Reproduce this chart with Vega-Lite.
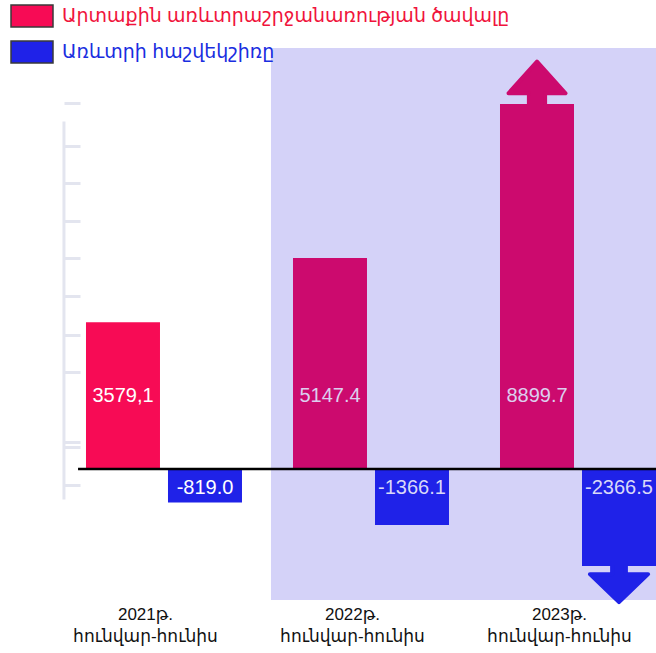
{
  "$schema": "https://vega.github.io/schema/vega-lite/v6.json",
  "width": 656,
  "height": 552,
  "autosize": {"type": "none"},
  "padding": {"left": 0, "top": 48, "right": 0, "bottom": 53},
  "background": "white",
  "config": {"view": {"stroke": null}, "font": "Liberation Sans, DejaVu Sans, sans-serif"},
  "data": {"values": [
    {"year": "2021", "series": "Արտաքին առևտրաշրջանառության ծավալը", "value": 3579.1, "label": "3579,1"},
    {"year": "2021", "series": "Առևտրի հաշվեկշիռը", "value": -819.0, "label": "-819.0"},
    {"year": "2022", "series": "Արտաքին առևտրաշրջանառության ծավալը", "value": 5147.4, "label": "5147.4"},
    {"year": "2022", "series": "Առևտրի հաշվեկշիռը", "value": -1366.1, "label": "-1366.1"},
    {"year": "2023", "series": "Արտաքին առևտրաշրջանառության ծավալը", "value": 8899.7, "label": "8899.7"},
    {"year": "2023", "series": "Առևտրի հաշվեկշիռը", "value": -2366.5, "label": "-2366.5"}
  ]},
  "layer": [
    {
      "mark": {"type": "bar", "opacity": 0},
      "encoding": {
        "x": {
          "field": "year", "type": "nominal", "title": null,
          "scale": {"type": "band", "domain": ["2021", "2022", "2023"], "paddingInner": 0, "paddingOuter": 0.0845, "align": 1},
          "axis": {
            "title": null, "domain": false, "ticks": false, "labelAngle": 0,
            "labelExpr": "[datum.value + 'թ.', 'հունվար-հունիս']",
            "labelFontSize": 17, "labelColor": "#111111", "labelLineHeight": 22,
            "labelPadding": 6, "labelOffset": 7, "labelFont": "Liberation Sans, DejaVu Sans, sans-serif"
          }
        },
        "y": {
          "field": "value", "type": "quantitative", "stack": null, "title": null,
          "scale": {"domain": [-3195, 10268], "nice": false, "zero": false},
          "axis": {
            "orient": "left", "offset": -64, "title": null, "domain": false, "labels": false, "grid": false,
            "ticks": true, "tickSize": -16, "tickColor": "#e3e5ef", "tickWidth": 3,
            "values": [-400, 530, 650, 2360, 3280, 4210, 5140, 6040, 6970, 7890, 8930]
          }
        }
      }
    },
    {
      "data": {"values": [{}]},
      "mark": {"type": "rect", "color": "#d4d2f8"},
      "encoding": {
        "x": {"datum": "2022", "type": "nominal", "bandPosition": 0.14, "title": null},
        "x2": {"datum": "2023", "bandPosition": 1},
        "y": {"value": 0},
        "y2": {"value": "height"}
      }
    },
    {
      "data": {"values": [{}]},
      "mark": {"type": "rule", "color": "#e3e5ef", "strokeWidth": 3},
      "encoding": {
        "x": {"datum": "2021", "type": "nominal", "bandPosition": 0.14, "title": null},
        "y": {"datum": 8478, "type": "quantitative", "title": null},
        "y2": {"datum": -741}
      }
    },
    {
      "mark": {"type": "bar"},
      "encoding": {
        "x": {"field": "year", "type": "nominal", "title": null},
        "xOffset": {
          "field": "series", "type": "nominal",
          "scale": {"domain": ["Արտաքին առևտրաշրջանառության ծավալը", "Առևտրի հաշվեկշիռը"], "paddingInner": 0.0976, "paddingOuter": 0.311, "align": 1}
        },
        "y": {"field": "value", "type": "quantitative", "stack": null, "title": null},
        "color": {
          "condition": {"test": "datum.year !== '2021' && datum.value > 0", "value": "#cc0a6e"},
          "field": "series", "type": "nominal",
          "scale": {"domain": ["Արտաքին առևտրաշրջանառության ծավալը", "Առևտրի հաշվեկշիռը"], "range": ["#f70b55", "#1f22e8"]},
          "legend": {
            "title": null, "orient": "none", "legendX": 10, "legendY": -54, "padding": 0, "offset": 0,
            "symbolType": "M-1,-0.52L1,-0.52L1,0.52L-1,0.52Z", "symbolSize": 1764,
            "symbolStrokeColor": "#3a3a3a", "symbolStrokeWidth": 1.5, "symbolOpacity": 1,
            "labelFontSize": 19, "labelOffset": 8, "labelLimit": 0, "rowPadding": -7,
            "labelFont": "Liberation Sans, DejaVu Sans, sans-serif",
            "encode": {"labels": {"update": {"fill": {"signal": "datum.index === 0 ? '#f0143c' : '#1a2ee0'"}}}}
          }
        }
      }
    },
    {
      "transform": [{"filter": "datum.year === '2023' && datum.value > 0"}],
      "mark": {"type": "point", "filled": true, "opacity": 1, "size": 3600, "strokeWidth": 4, "strokeJoin": "round",
               "color": "#cc0a6e", "stroke": "#cc0a6e",
               "shape": "M-0.27,0.1L-0.27,-0.36L-0.95,-0.36L0,-1.42L0.95,-0.36L0.27,-0.36L0.27,0.1Z"},
      "encoding": {
        "x": {"field": "year", "type": "nominal", "title": null},
        "xOffset": {"field": "series", "type": "nominal"},
        "y": {"field": "value", "type": "quantitative", "stack": null, "title": null}
      }
    },
    {
      "transform": [{"filter": "datum.year === '2023' && datum.value < 0"}],
      "mark": {"type": "point", "filled": true, "opacity": 1, "size": 3600, "strokeWidth": 4, "strokeJoin": "round",
               "color": "#1f22e8", "stroke": "#1f22e8",
               "shape": "M-0.23,-0.1L-0.23,0.27L-0.97,0.27L0,1.2L0.97,0.27L0.23,0.27L0.23,-0.1Z"},
      "encoding": {
        "x": {"field": "year", "type": "nominal", "title": null},
        "xOffset": {"field": "series", "type": "nominal"},
        "y": {"field": "value", "type": "quantitative", "stack": null, "title": null}
      }
    },
    {
      "transform": [{"filter": "datum.value > 0"}],
      "mark": {"type": "text", "fontSize": 20, "align": "center", "baseline": "middle", "font": "Liberation Sans, DejaVu Sans, sans-serif"},
      "encoding": {
        "x": {"field": "year", "type": "nominal", "title": null},
        "xOffset": {"field": "series", "type": "nominal"},
        "y": {"datum": 1770, "type": "quantitative", "title": null},
        "text": {"field": "label"},
        "color": {"condition": {"test": "datum.year === '2021'", "value": "#ffffff"}, "value": "#dccfee"}
      }
    },
    {
      "transform": [{"filter": "datum.value < 0"}],
      "mark": {"type": "text", "fontSize": 20, "align": "center", "baseline": "middle", "font": "Liberation Sans, DejaVu Sans, sans-serif"},
      "encoding": {
        "x": {"field": "year", "type": "nominal", "title": null},
        "xOffset": {"field": "series", "type": "nominal"},
        "y": {"datum": -470, "type": "quantitative", "title": null},
        "text": {"field": "label"},
        "color": {"condition": {"test": "datum.year === '2021'", "value": "#ffffff"}, "value": "#d8d8f8"}
      }
    },
    {
      "data": {"values": [{}]},
      "mark": {"type": "rule", "color": "#000000", "strokeWidth": 2.5},
      "encoding": {
        "x": {"datum": "2021", "type": "nominal", "bandPosition": 0.208, "title": null},
        "x2": {"datum": "2023", "bandPosition": 1},
        "y": {"datum": 0, "type": "quantitative", "title": null}
      }
    }
  ]
}
